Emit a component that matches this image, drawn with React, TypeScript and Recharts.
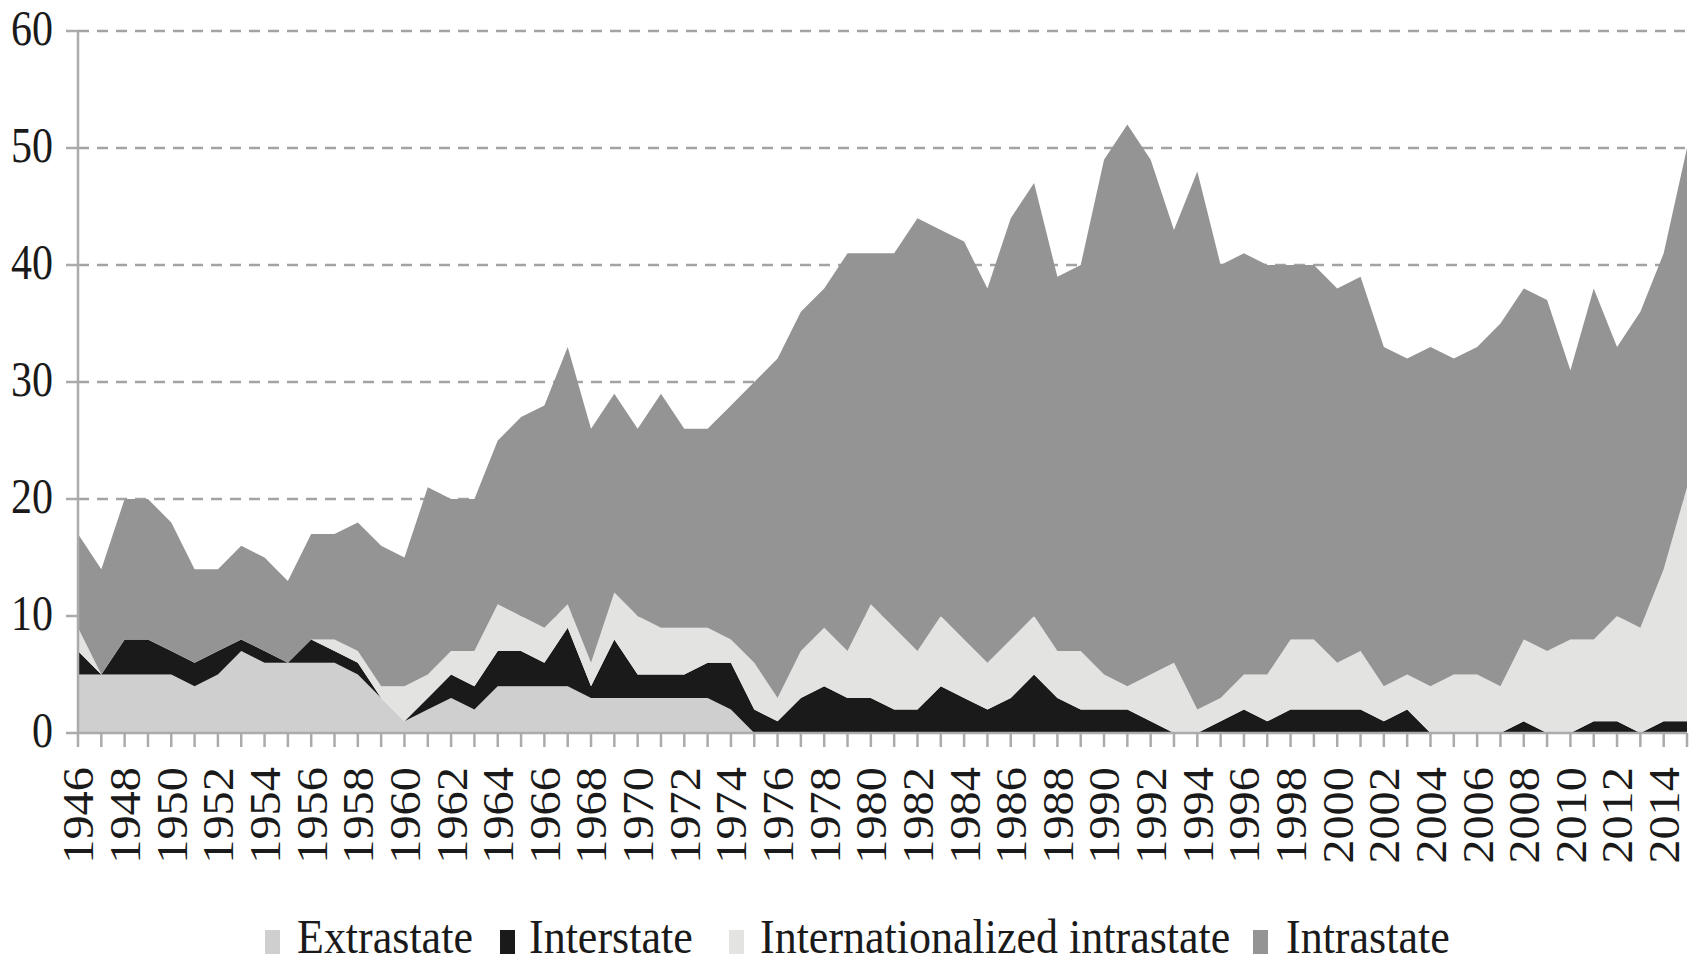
import React from "react";
import { AreaChart, Area, XAxis, YAxis, CartesianGrid } from "recharts";

const years = [
  1946, 1947, 1948, 1949, 1950, 1951, 1952, 1953, 1954, 1955, 1956, 1957, 1958, 1959,
  1960, 1961, 1962, 1963, 1964, 1965, 1966, 1967, 1968, 1969, 1970, 1971, 1972, 1973,
  1974, 1975, 1976, 1977, 1978, 1979, 1980, 1981, 1982, 1983, 1984, 1985, 1986, 1987,
  1988, 1989, 1990, 1991, 1992, 1993, 1994, 1995, 1996, 1997, 1998, 1999, 2000, 2001,
  2002, 2003, 2004, 2005, 2006, 2007, 2008, 2009, 2010, 2011, 2012, 2013, 2014, 2015,
];

const extrastate = [
  5, 5, 5, 5, 5, 4, 5, 7, 6, 6, 6, 6, 5, 3,
  1, 2, 3, 2, 4, 4, 4, 4, 3, 3, 3, 3, 3, 3,
  2, 0, 0, 0, 0, 0, 0, 0, 0, 0, 0, 0, 0, 0,
  0, 0, 0, 0, 0, 0, 0, 0, 0, 0, 0, 0, 0, 0,
  0, 0, 0, 0, 0, 0, 0, 0, 0, 0, 0, 0, 0, 0,
];

const interstate = [
  2, 0, 3, 3, 2, 2, 2, 1, 1, 0, 2, 1, 1, 0,
  0, 1, 2, 2, 3, 3, 2, 5, 1, 5, 2, 2, 2, 3,
  4, 2, 1, 3, 4, 3, 3, 2, 2, 4, 3, 2, 3, 5,
  3, 2, 2, 2, 1, 0, 0, 1, 2, 1, 2, 2, 2, 2,
  1, 2, 0, 0, 0, 0, 1, 0, 0, 1, 1, 0, 1, 1,
];

const internationalized = [
  2, 0, 0, 0, 0, 0, 0, 0, 0, 0, 0, 1, 1, 1,
  3, 2, 2, 3, 4, 3, 3, 2, 2, 4, 5, 4, 4, 3,
  2, 4, 2, 4, 5, 4, 8, 7, 5, 6, 5, 4, 5, 5,
  4, 5, 3, 2, 4, 6, 2, 2, 3, 4, 6, 6, 4, 5,
  3, 3, 4, 5, 5, 4, 7, 7, 8, 7, 9, 9, 13, 20,
];

const intrastate = [
  8, 9, 12, 12, 11, 8, 7, 8, 8, 7, 9, 9, 11, 12,
  11, 16, 13, 13, 14, 17, 19, 22, 20, 17, 16, 20, 17, 17,
  20, 24, 29, 29, 29, 34, 30, 32, 37, 33, 34, 32, 36, 37,
  32, 33, 44, 48, 44, 37, 46, 37, 36, 35, 32, 32, 32, 32,
  29, 27, 29, 27, 28, 31, 30, 30, 23, 30, 23, 27, 27, 29,
];

const yTicks = [0, 10, 20, 30, 40, 50, 60];

const seriesNames = ["Extrastate", "Interstate", "Internationalized intrastate", "Intrastate"];
const seriesColors = ["#cfcfcf", "#1a1a1a", "#e3e3e2", "#939493"];

const data = years.map((y, i) => ({
  year: y,
  extrastate: extrastate[i],
  interstate: interstate[i],
  internationalized: internationalized[i],
  intrastate: intrastate[i],
}));

const FONT = "'Liberation Serif', 'Times New Roman', serif";
const AXIS = "#ababab";

const XTick = (props: any) => {
  const { x, y, payload } = props;
  const v = Number(payload.value);
  if (v % 2 !== 0) return <g />;
  return (
    <text
      transform={`translate(${x},${y + 18}) rotate(-90) scale(1.1,1)`}
      x={0}
      y={0}
      dy="0.35em"
      textAnchor="end"
      fontFamily={FONT}
      fontSize={44}
      fill="#1a1a1a"
    >
      {v}
    </text>
  );
};

const YTick = (props: any) => {
  const { x, y, payload } = props;
  return (
    <text
      transform={`translate(${x - 11},${y - 3}) scale(1,1.2)`}
      x={0}
      y={0}
      dy="0.34em"
      textAnchor="end"
      fontFamily={FONT}
      fontSize={42}
      fill="#1a1a1a"
    >
      {payload.value}
    </text>
  );
};

const legendMarkerX = [265, 500, 729, 1253];
const legendTextX = [297, 529, 760, 1286];

export default function App() {
  return (
    <div style={{ position: "absolute", left: 0, top: 0, width: 1694, height: 962, background: "#fff" }}>
      <AreaChart
        width={1694}
        height={962}
        data={data}
        margin={{ top: 31, right: 7, left: 0, bottom: 0 }}
      >
        <CartesianGrid
          vertical={false}
          stroke="#a3a3a3"
          strokeWidth={2.5}
          strokeDasharray="11 8"
          horizontalValues={[10, 20, 30, 40, 50, 60]}
        />
        <XAxis
          dataKey="year"
          type="category"
          interval={0}
          height={229}
          tickSize={14}
          tick={<XTick />}
          axisLine={{ stroke: AXIS, strokeWidth: 2.5 }}
          tickLine={{ stroke: AXIS, strokeWidth: 2.5 }}
        />
        <YAxis
          width={78}
          domain={[0, 60]}
          ticks={yTicks}
          interval={0}
          tickSize={12}
          tick={<YTick />}
          axisLine={{ stroke: AXIS, strokeWidth: 2.5 }}
          tickLine={{ stroke: AXIS, strokeWidth: 2.5 }}
        />
        <Area type="linear" dataKey="extrastate" stackId="1" stroke="none" fill={seriesColors[0]} fillOpacity={1} isAnimationActive={false} />
        <Area type="linear" dataKey="interstate" stackId="1" stroke="none" fill={seriesColors[1]} fillOpacity={1} isAnimationActive={false} />
        <Area type="linear" dataKey="internationalized" stackId="1" stroke="none" fill={seriesColors[2]} fillOpacity={1} isAnimationActive={false} />
        <Area type="linear" dataKey="intrastate" stackId="1" stroke="none" fill={seriesColors[3]} fillOpacity={1} isAnimationActive={false} />
      </AreaChart>
      <svg width={1694} height={962} style={{ position: "absolute", left: 0, top: 0, pointerEvents: "none" }}>
        {seriesNames.map((name, i) => (
          <g key={name}>
            <rect x={legendMarkerX[i]} y={930} width={15} height={24} fill={seriesColors[i]} />
            <text
              transform={`translate(${legendTextX[i]},953) scale(1,1.1)`}
              x={0}
              y={0}
              fontFamily={FONT}
              fontSize={44}
              fill="#1a1a1a"
            >
              {name}
            </text>
          </g>
        ))}
      </svg>
    </div>
  );
}
